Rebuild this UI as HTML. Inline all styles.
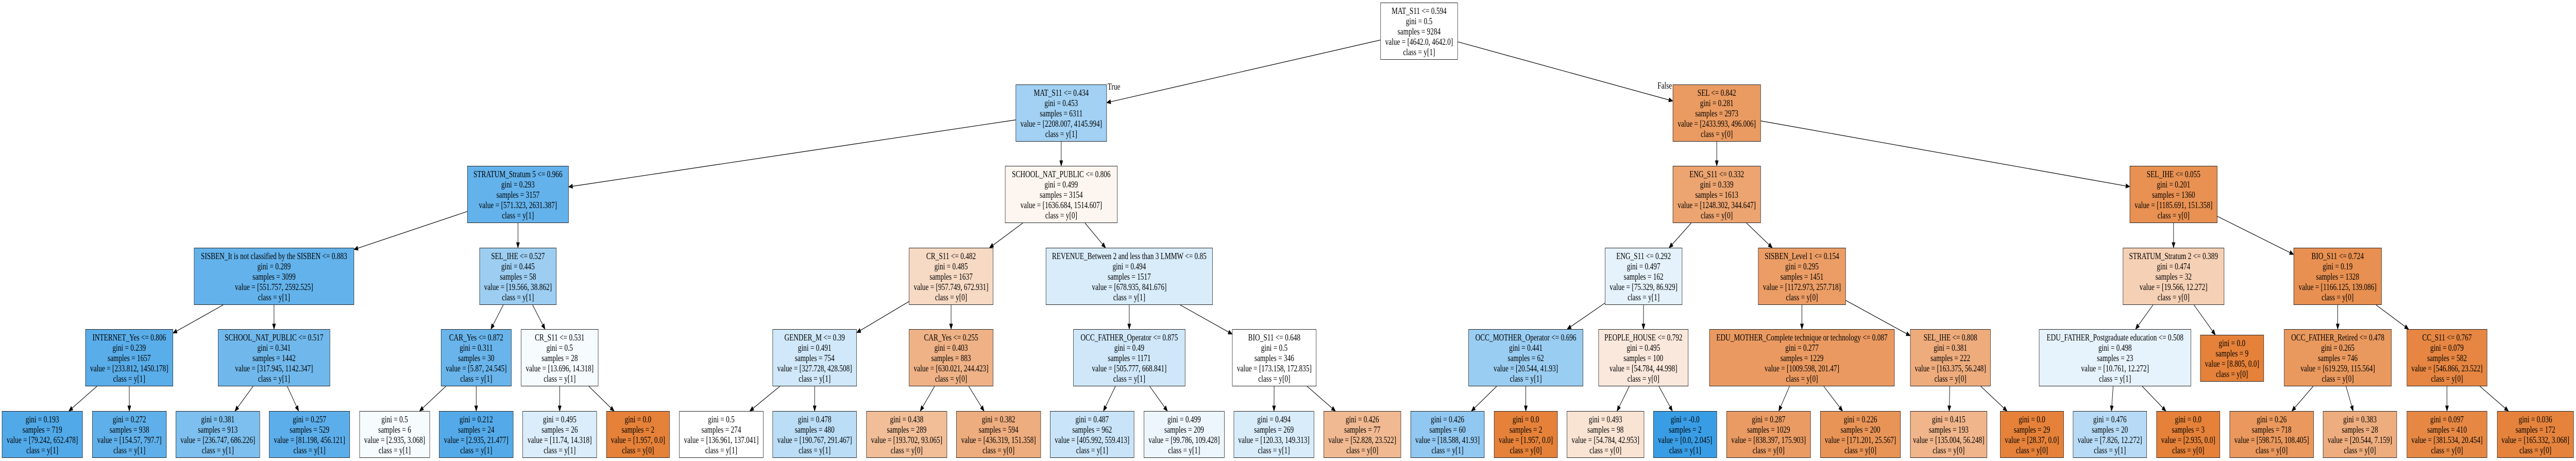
<!DOCTYPE html>
<html><head><meta charset="utf-8">
<style>
html,body{margin:0;padding:0;background:#fff;overflow:hidden;}
#wrap{position:absolute;left:0;top:0;width:6759px;height:895px;overflow:hidden;transform-origin:0 0;font-family:"Liberation Serif","Times New Roman",serif;}
.n{position:absolute;box-sizing:border-box;border:1px solid #222;background:#fff;display:flex;flex-direction:column;justify-content:center;align-items:center;font-size:18px;line-height:20px;white-space:nowrap;color:#000;overflow:hidden;}
.lbl{position:absolute;font-size:18px;line-height:20px;white-space:nowrap;}
svg{position:absolute;left:0;top:0;}
</style></head><body>
<div id="wrap">
<svg id="edges" width="6759" height="895"></svg>

<div class="n" id="r" style="left:3622px;top:5px;width:203px;height:111px"><div>MAT_S11 &lt;= 0.594</div><div>gini = 0.5</div><div>samples = 9284</div><div>value = [4642.0, 4642.0]</div><div>class = y[1]</div></div>

<div class="n" id="a" style="left:2665px;top:164px;width:239px;height:111px"><div>MAT_S11 &lt;= 0.434</div><div>gini = 0.453</div><div>samples = 6311</div><div>value = [2208.007, 4145.994]</div><div>class = y[1]</div></div>
<div class="n" id="b" style="left:4389px;top:164px;width:231px;height:111px"><div>SEL &lt;= 0.842</div><div>gini = 0.281</div><div>samples = 2973</div><div>value = [2433.993, 496.006]</div><div>class = y[0]</div></div>

<div class="n" id="a1" style="left:1226px;top:322px;width:266px;height:111px"><div>STRATUM_Stratum 5 &lt;= 0.966</div><div>gini = 0.293</div><div>samples = 3157</div><div>value = [571.323, 2631.387]</div><div>class = y[1]</div></div>
<div class="n" id="a2" style="left:2637px;top:322px;width:295px;height:111px"><div>SCHOOL_NAT_PUBLIC &lt;= 0.806</div><div>gini = 0.499</div><div>samples = 3154</div><div>value = [1636.684, 1514.607]</div><div>class = y[0]</div></div>
<div class="n" id="b1" style="left:4389px;top:322px;width:231px;height:111px"><div>ENG_S11 &lt;= 0.332</div><div>gini = 0.339</div><div>samples = 1613</div><div>value = [1248.302, 344.647]</div><div>class = y[0]</div></div>
<div class="n" id="b2" style="left:5588px;top:322px;width:230px;height:111px"><div>SEL_IHE &lt;= 0.055</div><div>gini = 0.201</div><div>samples = 1360</div><div>value = [1185.691, 151.358]</div><div>class = y[0]</div></div>

<div class="n" id="c1" style="left:509px;top:481px;width:420px;height:111px"><div>SISBEN_It is not classified by the SISBEN &lt;= 0.883</div><div>gini = 0.289</div><div>samples = 3099</div><div>value = [551.757, 2592.525]</div><div>class = y[1]</div></div>
<div class="n" id="c2" style="left:1258px;top:481px;width:202px;height:111px"><div>SEL_IHE &lt;= 0.527</div><div>gini = 0.445</div><div>samples = 58</div><div>value = [19.566, 38.862]</div><div>class = y[1]</div></div>
<div class="n" id="c3" style="left:2385px;top:481px;width:221px;height:111px"><div>CR_S11 &lt;= 0.482</div><div>gini = 0.485</div><div>samples = 1637</div><div>value = [957.749, 672.931]</div><div>class = y[0]</div></div>
<div class="n" id="c4" style="left:2744px;top:481px;width:438px;height:111px"><div>REVENUE_Between 2 and less than 3 LMMW &lt;= 0.85</div><div>gini = 0.494</div><div>samples = 1517</div><div>value = [678.935, 841.676]</div><div>class = y[1]</div></div>
<div class="n" id="c5" style="left:4211px;top:481px;width:203px;height:111px"><div>ENG_S11 &lt;= 0.292</div><div>gini = 0.497</div><div>samples = 162</div><div>value = [75.329, 86.929]</div><div>class = y[1]</div></div>
<div class="n" id="c6" style="left:4613px;top:481px;width:230px;height:111px"><div>SISBEN_Level 1 &lt;= 0.154</div><div>gini = 0.295</div><div>samples = 1451</div><div>value = [1172.973, 257.718]</div><div>class = y[0]</div></div>
<div class="n" id="c7" style="left:5570px;top:481px;width:266px;height:111px"><div>STRATUM_Stratum 2 &lt;= 0.389</div><div>gini = 0.474</div><div>samples = 32</div><div>value = [19.566, 12.272]</div><div>class = y[0]</div></div>
<div class="n" id="c8" style="left:6018px;top:481px;width:231px;height:111px"><div>BIO_S11 &lt;= 0.724</div><div>gini = 0.19</div><div>samples = 1328</div><div>value = [1166.125, 139.086]</div><div>class = y[0]</div></div>

<div class="n" id="d1" style="left:224px;top:639px;width:230px;height:111px"><div>INTERNET_Yes &lt;= 0.806</div><div>gini = 0.239</div><div>samples = 1657</div><div>value = [233.812, 1450.178]</div><div>class = y[1]</div></div>
<div class="n" id="d2" style="left:572px;top:639px;width:294px;height:111px"><div>SCHOOL_NAT_PUBLIC &lt;= 0.517</div><div>gini = 0.341</div><div>samples = 1442</div><div>value = [317.945, 1142.347]</div><div>class = y[1]</div></div>
<div class="n" id="d3" style="left:1157px;top:639px;width:185px;height:111px"><div>CAR_Yes &lt;= 0.872</div><div>gini = 0.311</div><div>samples = 30</div><div>value = [5.87, 24.545]</div><div>class = y[1]</div></div>
<div class="n" id="d4" style="left:1367px;top:639px;width:203px;height:111px"><div>CR_S11 &lt;= 0.531</div><div>gini = 0.5</div><div>samples = 28</div><div>value = [13.696, 14.318]</div><div>class = y[1]</div></div>
<div class="n" id="d5" style="left:2027px;top:639px;width:221px;height:111px"><div>GENDER_M &lt;= 0.39</div><div>gini = 0.491</div><div>samples = 754</div><div>value = [327.728, 428.508]</div><div>class = y[1]</div></div>
<div class="n" id="d6" style="left:2385px;top:639px;width:221px;height:111px"><div>CAR_Yes &lt;= 0.255</div><div>gini = 0.403</div><div>samples = 883</div><div>value = [630.021, 244.423]</div><div>class = y[0]</div></div>
<div class="n" id="d7" style="left:2816px;top:639px;width:294px;height:111px"><div>OCC_FATHER_Operator &lt;= 0.875</div><div>gini = 0.49</div><div>samples = 1171</div><div>value = [505.777, 668.841]</div><div>class = y[1]</div></div>
<div class="n" id="d8" style="left:3233px;top:639px;width:221px;height:111px"><div>BIO_S11 &lt;= 0.648</div><div>gini = 0.5</div><div>samples = 346</div><div>value = [173.158, 172.835]</div><div>class = y[0]</div></div>
<div class="n" id="d9" style="left:3853px;top:639px;width:301px;height:111px"><div>OCC_MOTHER_Operator &lt;= 0.696</div><div>gini = 0.441</div><div>samples = 62</div><div>value = [20.544, 41.93]</div><div>class = y[1]</div></div>
<div class="n" id="d10" style="left:4194px;top:639px;width:236px;height:111px"><div>PEOPLE_HOUSE &lt;= 0.792</div><div>gini = 0.495</div><div>samples = 100</div><div>value = [54.784, 44.998]</div><div>class = y[0]</div></div>
<div class="n" id="d11" style="left:4485px;top:639px;width:486px;height:111px"><div>EDU_MOTHER_Complete technique or technology &lt;= 0.087</div><div>gini = 0.277</div><div>samples = 1229</div><div>value = [1009.598, 201.47]</div><div>class = y[0]</div></div>
<div class="n" id="d12" style="left:5012px;top:639px;width:211px;height:111px"><div>SEL_IHE &lt;= 0.808</div><div>gini = 0.381</div><div>samples = 222</div><div>value = [163.375, 56.248]</div><div>class = y[0]</div></div>
<div class="n" id="d13" style="left:5350px;top:639px;width:399px;height:111px"><div>EDU_FATHER_Postgraduate education &lt;= 0.508</div><div>gini = 0.498</div><div>samples = 23</div><div>value = [10.761, 12.272]</div><div>class = y[1]</div></div>
<div class="n" id="d14" style="left:5773px;top:650px;width:167px;height:91px"><div>gini = 0.0</div><div>samples = 9</div><div>value = [8.805, 0.0]</div><div>class = y[0]</div></div>
<div class="n" id="d15" style="left:5993px;top:639px;width:282px;height:111px"><div>OCC_FATHER_Retired &lt;= 0.478</div><div>gini = 0.265</div><div>samples = 746</div><div>value = [619.259, 115.564]</div><div>class = y[0]</div></div>
<div class="n" id="d16" style="left:6315px;top:639px;width:211px;height:111px"><div>CC_S11 &lt;= 0.767</div><div>gini = 0.079</div><div>samples = 582</div><div>value = [546.866, 23.522]</div><div>class = y[0]</div></div>

<div class="n" id="l1" style="left:5px;top:798px;width:212px;height:91px"><div>gini = 0.193</div><div>samples = 719</div><div>value = [79.242, 652.478]</div><div>class = y[1]</div></div>
<div class="n" id="l2" style="left:242px;top:798px;width:195px;height:91px"><div>gini = 0.272</div><div>samples = 938</div><div>value = [154.57, 797.7]</div><div>class = y[1]</div></div>
<div class="n" id="l3" style="left:461px;top:798px;width:221px;height:91px"><div>gini = 0.381</div><div>samples = 913</div><div>value = [236.747, 686.226]</div><div>class = y[1]</div></div>
<div class="n" id="l4" style="left:706px;top:798px;width:212px;height:91px"><div>gini = 0.257</div><div>samples = 529</div><div>value = [81.198, 456.121]</div><div>class = y[1]</div></div>
<div class="n" id="l5" style="left:943px;top:798px;width:185px;height:91px"><div>gini = 0.5</div><div>samples = 6</div><div>value = [2.935, 3.068]</div><div>class = y[1]</div></div>
<div class="n" id="l6" style="left:1152px;top:798px;width:195px;height:91px"><div>gini = 0.212</div><div>samples = 24</div><div>value = [2.935, 21.477]</div><div>class = y[1]</div></div>
<div class="n" id="l7" style="left:1371px;top:798px;width:195px;height:91px"><div>gini = 0.495</div><div>samples = 26</div><div>value = [11.74, 14.318]</div><div>class = y[1]</div></div>
<div class="n" id="l8" style="left:1591px;top:798px;width:166px;height:91px"><div>gini = 0.0</div><div>samples = 2</div><div>value = [1.957, 0.0]</div><div>class = y[0]</div></div>
<div class="n" id="l9" style="left:1782px;top:798px;width:221px;height:91px"><div>gini = 0.5</div><div>samples = 274</div><div>value = [136.961, 137.041]</div><div>class = y[1]</div></div>
<div class="n" id="l10" style="left:2027px;top:798px;width:221px;height:91px"><div>gini = 0.478</div><div>samples = 480</div><div>value = [190.767, 291.467]</div><div>class = y[1]</div></div>
<div class="n" id="l11" style="left:2273px;top:798px;width:212px;height:91px"><div>gini = 0.438</div><div>samples = 289</div><div>value = [193.702, 93.065]</div><div>class = y[0]</div></div>
<div class="n" id="l12" style="left:2509px;top:798px;width:222px;height:91px"><div>gini = 0.382</div><div>samples = 594</div><div>value = [436.319, 151.358]</div><div>class = y[0]</div></div>
<div class="n" id="l13" style="left:2755px;top:798px;width:221px;height:91px"><div>gini = 0.487</div><div>samples = 962</div><div>value = [405.992, 559.413]</div><div>class = y[1]</div></div>
<div class="n" id="l14" style="left:3001px;top:798px;width:212px;height:91px"><div>gini = 0.499</div><div>samples = 209</div><div>value = [99.786, 109.428]</div><div>class = y[1]</div></div>
<div class="n" id="l15" style="left:3237px;top:798px;width:211px;height:91px"><div>gini = 0.494</div><div>samples = 269</div><div>value = [120.33, 149.313]</div><div>class = y[1]</div></div>
<div class="n" id="l16" style="left:3473px;top:798px;width:203px;height:91px"><div>gini = 0.426</div><div>samples = 77</div><div>value = [52.828, 23.522]</div><div>class = y[0]</div></div>
<div class="n" id="l17" style="left:3701px;top:798px;width:194px;height:91px"><div>gini = 0.426</div><div>samples = 60</div><div>value = [18.588, 41.93]</div><div>class = y[1]</div></div>
<div class="n" id="l18" style="left:3920px;top:798px;width:167px;height:91px"><div>gini = 0.0</div><div>samples = 2</div><div>value = [1.957, 0.0]</div><div>class = y[0]</div></div>
<div class="n" id="l19" style="left:4111px;top:798px;width:203px;height:91px"><div>gini = 0.493</div><div>samples = 98</div><div>value = [54.784, 42.953]</div><div>class = y[0]</div></div>
<div class="n" id="l20" style="left:4338px;top:798px;width:167px;height:91px"><div>gini = -0.0</div><div>samples = 2</div><div>value = [0.0, 2.045]</div><div>class = y[1]</div></div>
<div class="n" id="l21" style="left:4530px;top:798px;width:221px;height:91px"><div>gini = 0.287</div><div>samples = 1029</div><div>value = [838.397, 175.903]</div><div>class = y[0]</div></div>
<div class="n" id="l22" style="left:4776px;top:798px;width:211px;height:91px"><div>gini = 0.226</div><div>samples = 200</div><div>value = [171.201, 25.567]</div><div>class = y[0]</div></div>
<div class="n" id="l23" style="left:5012px;top:798px;width:202px;height:91px"><div>gini = 0.415</div><div>samples = 193</div><div>value = [135.004, 56.248]</div><div>class = y[0]</div></div>
<div class="n" id="l24" style="left:5248px;top:798px;width:167px;height:91px"><div>gini = 0.0</div><div>samples = 29</div><div>value = [28.37, 0.0]</div><div>class = y[0]</div></div>
<div class="n" id="l25" style="left:5439px;top:798px;width:194px;height:91px"><div>gini = 0.476</div><div>samples = 20</div><div>value = [7.826, 12.272]</div><div>class = y[1]</div></div>
<div class="n" id="l26" style="left:5658px;top:798px;width:167px;height:91px"><div>gini = 0.0</div><div>samples = 3</div><div>value = [2.935, 0.0]</div><div>class = y[0]</div></div>
<div class="n" id="l27" style="left:5850px;top:798px;width:221px;height:91px"><div>gini = 0.26</div><div>samples = 718</div><div>value = [598.715, 108.405]</div><div>class = y[0]</div></div>
<div class="n" id="l28" style="left:6095px;top:798px;width:194px;height:91px"><div>gini = 0.383</div><div>samples = 28</div><div>value = [20.544, 7.159]</div><div>class = y[0]</div></div>
<div class="n" id="l29" style="left:6315px;top:798px;width:211px;height:91px"><div>gini = 0.097</div><div>samples = 410</div><div>value = [381.534, 20.454]</div><div>class = y[0]</div></div>
<div class="n" id="l30" style="left:6552px;top:798px;width:201px;height:91px"><div>gini = 0.036</div><div>samples = 172</div><div>value = [165.332, 3.068]</div><div>class = y[0]</div></div>

<div class="lbl" style="left:2906px;top:158px">True</div>
<div class="lbl" style="left:4349px;top:156px">False</div>
</div>

<script>
(function(){
  var wrap=document.getElementById('wrap');
  var nodes=document.querySelectorAll('.n');
  nodes.forEach(function(n){
    var m=n.textContent.match(/value = \[(-?[\d.]+), (-?[\d.]+)\]/);
    if(!m)return;
    var a=parseFloat(m[1]),b=parseFloat(m[2]),s=a+b;
    var p0=a/s,p1=b/s,mx=Math.max(p0,p1),mn=Math.min(p0,p1);
    var al=mn>=1?0:(mx-mn)/(1-mn);
    var c=p0>=p1?[229,129,57]:[57,157,229];
    var col=c.map(function(v){return Math.round(255-al*(255-v));});
    n.style.background='rgb('+col.join(',')+')';
  });
  var E=[['r','a'],['r','b'],['a','a1'],['a','a2'],['b','b1'],['b','b2'],
  ['a1','c1'],['a1','c2'],['a2','c3'],['a2','c4'],['b1','c5'],['b1','c6'],['b2','c7'],['b2','c8'],
  ['c1','d1'],['c1','d2'],['c2','d3'],['c2','d4'],['c3','d5'],['c3','d6'],['c4','d7'],['c4','d8'],
  ['c5','d9'],['c5','d10'],['c6','d11'],['c6','d12'],['c7','d13'],['c7','d14'],['c8','d15'],['c8','d16'],
  ['d1','l1'],['d1','l2'],['d2','l3'],['d2','l4'],['d3','l5'],['d3','l6'],['d4','l7'],['d4','l8'],
  ['d5','l9'],['d5','l10'],['d6','l11'],['d6','l12'],['d7','l13'],['d7','l14'],['d8','l15'],['d8','l16'],
  ['d9','l17'],['d9','l18'],['d10','l19'],['d10','l20'],['d11','l21'],['d11','l22'],['d12','l23'],['d12','l24'],
  ['d13','l25'],['d13','l26'],['d15','l27'],['d15','l28'],['d16','l29'],['d16','l30']];
  function box(id){var e=document.getElementById(id);var x=parseFloat(e.style.left),y=parseFloat(e.style.top),w=parseFloat(e.style.width),h=parseFloat(e.style.height);return {cx:x+w/2,cy:y+h/2,hw:w/2,hh:h/2};}
  function clip(bx,dx,dy){var t=Infinity;if(dx!==0)t=Math.min(t,bx.hw/Math.abs(dx));if(dy!==0)t=Math.min(t,bx.hh/Math.abs(dy));return t;}
  var svg=document.getElementById('edges'),html='';
  E.forEach(function(e){
    var p=box(e[0]),c=box(e[1]);
    var dx=c.cx-p.cx,dy=c.cy-p.cy,L=Math.sqrt(dx*dx+dy*dy);
    var t1=clip(p,dx,dy),t2=clip(c,-dx,-dy);
    var x1=p.cx+dx*t1,y1=p.cy+dy*t1,x2=c.cx-dx*t2,y2=c.cy-dy*t2;
    var ux=dx/L,uy=dy/L,al=10,aw=4;
    var bx=x2-ux*al,by=y2-uy*al;
    html+='<line x1="'+x1+'" y1="'+y1+'" x2="'+bx+'" y2="'+by+'" stroke="#000" stroke-width="1.2"/>';
    html+='<polygon points="'+x2+','+y2+' '+(bx-uy*aw)+','+(by+ux*aw)+' '+(bx+uy*aw)+','+(by-ux*aw)+'" fill="#000" stroke="#000"/>';
  });
  svg.innerHTML=html;
  function fit(){
    var sx=(window.innerWidth||6759)/6759, sy=(window.innerHeight||895)/895;
    if(Math.abs(sx-1)<0.001&&Math.abs(sy-1)<0.001){wrap.style.transform='none';}
    else{wrap.style.transform='scale('+sx+','+sy+')';}
  }
  fit();
  window.addEventListener('resize',fit);
})();
</script>
</body></html>
